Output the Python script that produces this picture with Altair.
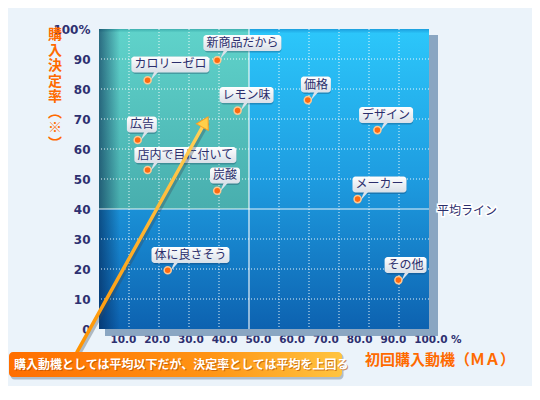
import altair as alt
import pandas as pd

# 初回購入動機 (MA) vs 購入決定率
items = ["新商品だから", "カロリーゼロ", "レモン味", "広告", "店内で目に付いて", "炭酸",
         "体に良さそう", "価格", "デザイン", "メーカー", "その他"]
first_ma = [39.4, 16.2, 46.2, 12.9, 16.2, 39.4, 22.9, 69.6, 92.8, 86.2, 99.8]
decision = [89.6, 82.9, 72.8, 63.0, 53.0, 46.1, 19.6, 76.3, 66.3, 43.3, 16.3]
# where each speech bubble sits (data units)
bubble_x = [47.8, 23.8, 49.2, 14.3, 28.8, 42.0, 30.5, 72.3, 95.7, 93.5, 102.2]
bubble_y = [95.3, 88.2, 78.0, 68.2, 58.0, 51.2, 24.7, 81.5, 71.3, 48.2, 21.3]

avg_ma = 50
avg_rate = 40
x_ticks = [10, 20, 30, 40, 50, 60, 70, 80, 90, 100]
y_ticks = [0, 10, 20, 30, 40, 50, 60, 70, 80, 90, 100]

# annotation arrow, bottom-left -> up into the teal quadrant
arrow_x = [-7.3, 35.4]
arrow_y = [-7.6, 69.0]

note = "購入動機としては平均以下だが、決定率としては平均を上回る"
y_title = "購\n入\n決\n定\n率\n︵\n※\n︶"
x_title = "初回購入動機（ＭＡ）"

NAVY = "#2b2e6c"
ORANGE = "#ff6a00"
JP = "Noto Sans CJK JP"

xs = alt.Scale(domain=[0, 110], nice=False, zero=False)
ys = alt.Scale(domain=[0, 100], nice=False, zero=False)

yaxis = alt.Axis(
    values=y_ticks,
    labelExpr="datum.value == 100 ? '100%' : datum.label",
    grid=False, domain=False, ticks=False, tickSize=0,
    labelPadding=9, labelOverlap=False, labelFlush=False,
    labelFont="DejaVu Sans", labelFontWeight="bold", labelFontSize=12, labelColor="#2e3070",
    title=None,
)


def X(f):
    return alt.X(f, type="quantitative", scale=xs, axis=None)


def Y(f):
    return alt.Y(f, type="quantitative", scale=ys, axis=yaxis)


def grad(stops, horizontal=False):
    return alt.Gradient(
        gradient="linear",
        stops=[alt.GradientStop(color=c, offset=o) for o, c in stops],
        x1=0, y1=0, x2=1 if horizontal else 0, y2=0 if horizontal else 1,
    )


def box(x0, x1, y0, y1):
    return pd.DataFrame({"x0": [x0], "x1": [x1], "y0": [y0], "y1": [y1]})


def rect(df, **kw):
    return alt.Chart(df).mark_rect(**kw).encode(
        x=X("x0"), x2=alt.X2("x1"), y=Y("y0"), y2=alt.Y2("y1"))


# plot panel
shadow = rect(box(2, 113, -2.3, 98), color="#7f9dbb", opacity=0.9)
blue = rect(box(0, 110, 0, 100), fill=grad([(0, "#1c9fde"), (0.015, "#2cc6fa"),
                                            (0.5, "#1e9ce0"), (1, "#0d62b0")]))
teal = rect(box(0, avg_ma, avg_rate, 100), fill=grad([(0, "#3fb0b0"), (0.02, "#5fd2ca"),
                                                      (1, "#48aeae")]))
shade = rect(box(0, 7, 0, 100), fill=grad([(0, "rgba(0,25,70,0.55)"), (1, "rgba(0,25,70,0)")],
                                          horizontal=True))

xgrid = alt.Chart(pd.DataFrame({"v": [t for t in x_ticks if t != avg_ma]})).mark_rule(
    color="white", strokeDash=[1, 2], strokeWidth=1, opacity=0.9).encode(x=X("v"))
ygrid = alt.Chart(pd.DataFrame({"v": [t for t in y_ticks if t not in (0, 100, avg_rate)]})).mark_rule(
    color="white", strokeDash=[1, 2], strokeWidth=1, opacity=0.9).encode(y=Y("v"))
avg_v = alt.Chart(pd.DataFrame({"v": [avg_ma]})).mark_rule(
    color="white", strokeWidth=1.2, opacity=0.9).encode(x=X("v"))
avg_h = alt.Chart(pd.DataFrame({"v": [avg_rate]})).mark_rule(
    color="white", strokeWidth=1.2, opacity=0.9).encode(y=Y("v"))

avg_df = pd.DataFrame({"x": [110], "y": [avg_rate], "t": ["平均ライン"]})
avg_halo = alt.Chart(avg_df).mark_text(
    align="left", baseline="middle", dx=8, dy=2, font=JP, fontSize=12,
    stroke="white", strokeWidth=3, color="white").encode(x=X("x"), y=Y("y"), text="t:N")
avg_txt = alt.Chart(avg_df).mark_text(
    align="left", baseline="middle", dx=8, dy=2, font=JP, fontSize=12,
    color=NAVY).encode(x=X("x"), y=Y("y"), text="t:N")

# axis titles drawn as text (the y one stacked vertically)
ytitle = alt.Chart(pd.DataFrame({"x": [0], "y": [100], "t": [y_title]})).mark_text(
    align="center", baseline="top", dx=-44, dy=-1, lineBreak="\n", lineHeight=15.5,
    font=JP, fontSize=14, fontWeight="bold", color=ORANGE,
).encode(x=X("x"), y=Y("y"), text="t:N")
xtitle = alt.Chart(pd.DataFrame({"x": [110], "y": [0], "t": [x_title]})).mark_text(
    align="center", baseline="middle", dx=11, dy=31,
    font=JP, fontSize=15, fontWeight="bold", color=ORANGE,
).encode(x=X("x"), y=Y("y"), text="t:N")

# points and their speech bubbles
pts = pd.DataFrame({"item": items, "ma": first_ma, "rate": decision,
                    "bx": bubble_x, "by": bubble_y})
pts["n"] = pts["item"].str.len()

dots = alt.Chart(pts).mark_point(
    filled=True, size=50, fill="#ff6a10", stroke="#ffc890", strokeWidth=1.5, opacity=1
).encode(x=X("ma"), y=Y("rate"))

bub = alt.Chart(pts).transform_calculate(
    half="(datum.n * 12 + 6) / 6",
    x0="datum.bx - datum.half", x1="datum.bx + datum.half",
    y0="datum.by - 2.67", y1="datum.by + 2.67",
    tx="datum.ma + 2.3", ty="datum.by - 4",
)
bub_shadow = bub.mark_rect(color="#10284a", opacity=0.28, cornerRadius=3, xOffset=1, yOffset=1.5).encode(
    x=X("x0:Q"), x2=alt.X2("x1:Q"), y=Y("y0:Q"), y2=alt.Y2("y1:Q"))
bub_box = bub.mark_rect(cornerRadius=3, fill=grad([(0, "#ffffff"), (1, "#d9e0e8")])).encode(
    x=X("x0:Q"), x2=alt.X2("x1:Q"), y=Y("y0:Q"), y2=alt.Y2("y1:Q"))
bub_tail = bub.mark_point(
    shape="M-0.1,-1.1L0.9,-1.1L-1,1Z", size=64, filled=True, fill="#dbe2ea", opacity=1
).encode(x=X("tx:Q"), y=Y("ty:Q"))
bub_txt = bub.mark_text(font=JP, fontSize=12, color=NAVY, align="center", baseline="middle").encode(
    x=X("bx"), y=Y("by"), text="item:N")

# arrow
arr = pd.DataFrame({"x": arrow_x, "y": arrow_y, "o": [0, 1]})
arrow_sh = alt.Chart(arr).mark_line(color="#3a4a5a", opacity=0.35, strokeWidth=4,
                                    xOffset=2.5, yOffset=1).encode(x=X("x"), y=Y("y"), order="o:Q")
arrow = alt.Chart(arr).mark_line(
    stroke=grad([(0, "#ffd25a"), (1, "#ff9200")]), strokeWidth=3.5, strokeCap="round"
).encode(x=X("x"), y=Y("y"), order="o:Q")
head = alt.Chart(arr.tail(1)).mark_point(
    shape="triangle-up", angle=29, size=180, filled=True, fill="#ffcf4a",
    stroke="#ffa020", strokeWidth=1, opacity=1).encode(x=X("x"), y=Y("y"))

# bottom banner
ban_sh = rect(box(-29.5, 81.5, -16.8, -8.2), color="#7f8fa0", opacity=0.55, cornerRadius=4)
banner = rect(box(-30, 81, -16, -7.67), cornerRadius=4,
              fill=grad([(0, "#ff6e00"), (0.6, "#ff9414"), (1, "#ffc440")], horizontal=True))
ban_df = pd.DataFrame({"x": [-30], "y": [-11.9], "t": [note]})
ban_txt_sh = alt.Chart(ban_df).mark_text(
    align="left", baseline="middle", dx=6, dy=1, font=JP, fontSize=12, fontWeight="bold",
    color="#b04800", opacity=0.6).encode(x=X("x"), y=Y("y"), text="t:N")
ban_txt = alt.Chart(ban_df).mark_text(
    align="left", baseline="middle", dx=5, font=JP, fontSize=12, fontWeight="bold",
    color="white").encode(x=X("x"), y=Y("y"), text="t:N")

# the drawn tick labels sit on their own slightly wider spacing
xlab = alt.Chart(pd.DataFrame({"t": x_ticks})).mark_point(opacity=0).encode(
    x=alt.X("t:Q", scale=alt.Scale(domain=[6.74, 104.52], nice=False, zero=False),
            axis=alt.Axis(
                values=x_ticks, orient="bottom",
                labelExpr="datum.value == 100 ? format(datum.value, '.1f') + ' %' : format(datum.value, '.1f')",
                labelAlign="left", labelBaseline="middle", labelPadding=10,
                labelOverlap=False, labelFlush=False,
                ticks=False, tickSize=0, domain=False, grid=False,
                labelFont="DejaVu Sans", labelFontWeight="bold", labelFontSize=10.5,
                labelColor="#2e3070", title=None,
            ))
)

chart = alt.layer(
    shadow, blue, teal, shade, xgrid, ygrid, avg_v, avg_h, avg_halo, avg_txt,
    ytitle, xtitle,
    dots, bub_shadow, bub_box, bub_tail, bub_txt,
    arrow_sh, arrow, head,
    ban_sh, banner, ban_txt_sh, ban_txt,
    xlab,
).resolve_scale(x="independent").properties(
    width=330, height=300,
    autosize=alt.AutoSizeParams(type="none"),
    padding={"left": 91, "top": 21, "right": 103, "bottom": 57},
    background="#ebf3fa",
).configure_view(strokeWidth=0)

chart.save("out.html", embed_options={"renderer": "svg", "actions": False})
